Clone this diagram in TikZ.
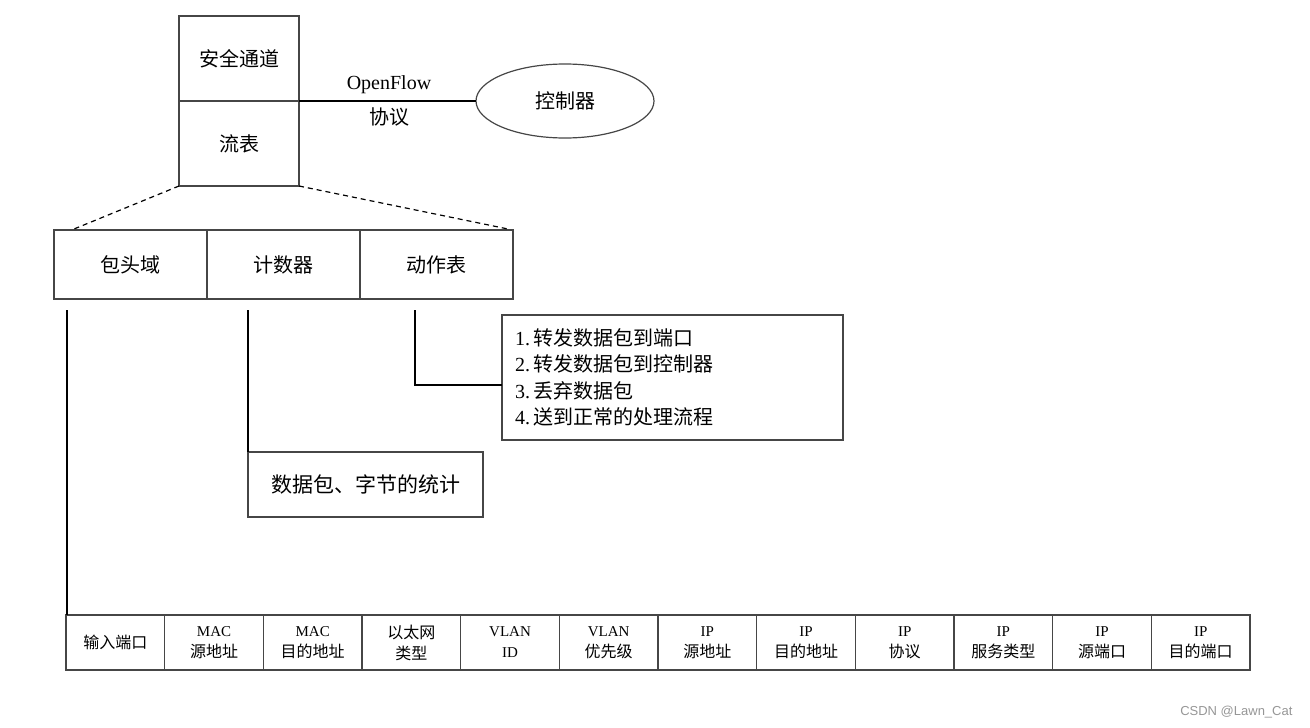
\documentclass[tikz,border=0pt]{standalone}
\usepackage{fontspec}
\setmainfont{Liberation Serif}
\newfontfamily\cjk{Noto Sans CJK SC}
\newfontfamily\wmfont{Liberation Sans}
\usetikzlibrary{shapes.geometric,calc}
\definecolor{edge}{RGB}{70,70,70}
\definecolor{wm}{RGB}{150,150,150}
\newcommand\latx[1]{{\rmfamily\fontsize{15}{21}\selectfont #1}}
\begin{document}
\begin{tikzpicture}[x=1pt,y=-1pt,
  box/.style={draw=edge,line width=1.2pt,inner sep=0pt,outer sep=0pt,anchor=north west,align=center},
  bigtxt/.style={font=\cjk\fontsize{20}{24}\selectfont},
  cell/.style={box,minimum width=98.67pt,minimum height=55pt,font=\cjk\fontsize{16}{21}\selectfont},
  mid/.style={box,minimum width=153pt,minimum height=69pt,bigtxt},
  thick line/.style={line width=2.8pt,black},
  thin line/.style={line width=1.2pt,black},
  dashline/.style={line width=1.2pt,black,dash pattern=on 5pt off 4pt}]
\useasboundingbox (0,0) rectangle (1310,728);

% top box
\node[box,minimum width=120pt,minimum height=85pt,bigtxt] (sec) at (179,16) {安全通道};
\node[box,minimum width=120pt,minimum height=85pt,bigtxt] (flow) at (179,101) {流表};

% controller
\node[draw=edge,line width=1.2pt,ellipse,minimum width=178pt,minimum height=74pt,inner sep=0pt,outer sep=0pt,bigtxt] (ctrl) at (565,101) {控制器};
\draw[thin line] (flow.north east) -- (ctrl.west);
\node[font=\fontsize{20}{24}\selectfont] (of) at (389,85) {OpenFlow};
\node[bigtxt] (proto) at (389,117) {协议};

% middle row
\node[mid] (hdr) at (54,230) {包头域};
\node[mid] (cnt) at (207,230) {计数器};
\node[mid] (act) at (360,230) {动作表};

\coordinate (dl) at (74,229);
\coordinate (dr) at (508,229);
\draw[dashline] (flow.south west) -- (dl);
\draw[dashline] (flow.south east) -- (dr);

% action list
\node[box,minimum width=341pt,minimum height=125pt,font=\cjk\fontsize{20}{26.5}\selectfont,align=left,text width=315pt] (list) at (502,315)
{{\rmfamily 1.\,}转发数据包到端口\\{\rmfamily 2.\,}转发数据包到控制器\\{\rmfamily 3.\,}丢弃数据包\\{\rmfamily 4.\,}送到正常的处理流程};

% statistics
\node[box,minimum width=235pt,minimum height=65pt,font=\cjk\fontsize{21}{24}\selectfont] (stat) at (248,452) {数据包、字节的统计};

% bottom row
\node[cell] (f1) at (66,615) {输入端口};
\node[cell] (f2) at (f1.north east) {\latx{MAC}\\源地址};
\node[cell] (f3) at (f2.north east) {\latx{MAC}\\目的地址};
\node[cell] (f4) at (f3.north east) {以太网\\类型};
\node[cell] (f5) at (f4.north east) {\latx{VLAN}\\\latx{ID}};
\node[cell] (f6) at (f5.north east) {\latx{VLAN}\\优先级};
\node[cell] (f7) at (f6.north east) {\latx{IP}\\源地址};
\node[cell] (f8) at (f7.north east) {\latx{IP}\\目的地址};
\node[cell] (f9) at (f8.north east) {\latx{IP}\\协议};
\node[cell] (f10) at (f9.north east) {\latx{IP}\\服务类型};
\node[cell] (f11) at (f10.north east) {\latx{IP}\\源端口};
\node[cell] (f12) at (f11.north east) {\latx{IP}\\目的端口};

% connectors
\coordinate (hs) at (67,310);
\draw[thick line] (hs) -- (hs |- f1.north);
\coordinate (cs) at (248,310);
\draw[thin line,line width=1.8pt] (cs) -- (stat.north west);
\coordinate (as) at (415,310);
\coordinate (ac) at (415,385);
\draw[thin line,line width=1.8pt] (as) -- (ac) -- (ac -| list.west);

% watermark
\node[font=\wmfont\fontsize{13}{15}\selectfont,text=wm,anchor=east] (wmk) at (1296,712) {CSDN @Lawn\_Cat};
\end{tikzpicture}
\end{document}
